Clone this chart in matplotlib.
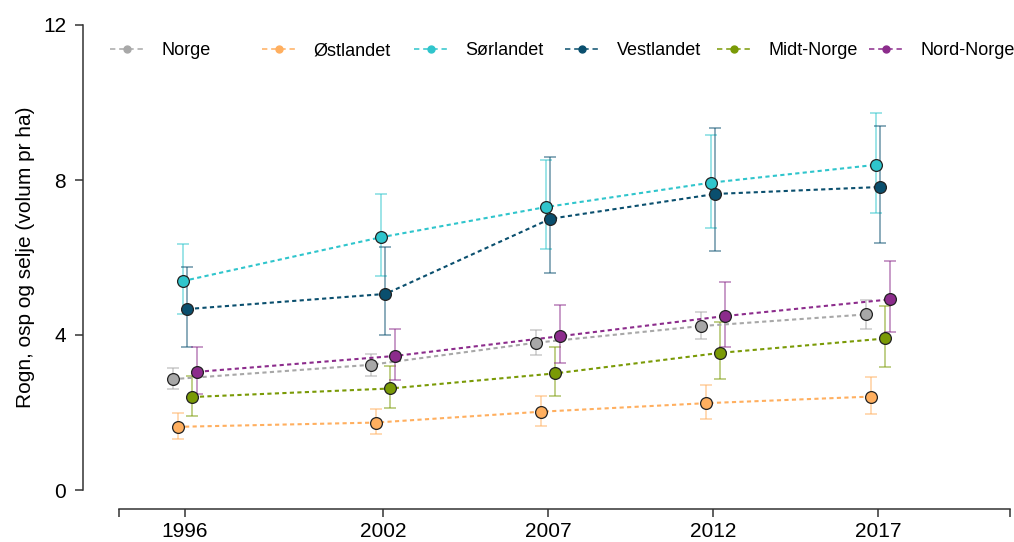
import numpy as np
from matplotlib import pyplot as plt
from matplotlib.lines import Line2D

plt.rcParams['font.family'] = ['Liberation Sans', 'DejaVu Sans']

# aar for hver taksering
years = np.array([1996, 2002, 2007, 2012, 2017])

# middelverdi, nedre og oevre grense for hver region
norge = [2.86, 3.23, 3.80, 4.23, 4.53]
norge_lo = [2.60, 2.95, 3.48, 3.89, 4.16]
norge_hi = [3.14, 3.52, 4.13, 4.60, 4.91]

ostlandet = [1.63, 1.74, 2.02, 2.24, 2.41]
ostlandet_lo = [1.32, 1.44, 1.65, 1.82, 1.95]
ostlandet_hi = [2.00, 2.09, 2.43, 2.71, 2.92]

sorlandet = [5.39, 6.52, 7.30, 7.93, 8.39]
sorlandet_lo = [4.54, 5.51, 6.21, 6.76, 7.16]
sorlandet_hi = [6.36, 7.63, 8.51, 9.16, 9.73]

vestlandet = [4.67, 5.06, 7.00, 7.64, 7.82]
vestlandet_lo = [3.69, 3.99, 5.61, 6.18, 6.37]
vestlandet_hi = [5.76, 6.27, 8.60, 9.33, 9.40]

midtnorge = [2.40, 2.62, 3.01, 3.54, 3.91]
midtnorge_lo = [1.91, 2.12, 2.43, 2.86, 3.17]
midtnorge_hi = [2.94, 3.20, 3.68, 4.33, 4.75]

nordnorge = [3.05, 3.46, 3.97, 4.49, 4.92]
nordnorge_lo = [2.49, 2.84, 3.29, 3.70, 4.07]
nordnorge_hi = [3.69, 4.16, 4.78, 5.36, 5.91]

labels = ['Norge', 'Østlandet', 'Sørlandet', 'Vestlandet', 'Midt-Norge', 'Nord-Norge']
colors = ['#a8a8a8', '#ffaf5f', '#2fc5cc', '#0a4f6e', '#7a9a06', '#8c2c8c']
means = [norge, ostlandet, sorlandet, vestlandet, midtnorge, nordnorge]
lows = [norge_lo, ostlandet_lo, sorlandet_lo, vestlandet_lo, midtnorge_lo, nordnorge_lo]
highs = [norge_hi, ostlandet_hi, sorlandet_hi, vestlandet_hi, midtnorge_hi, nordnorge_hi]

fig = plt.figure(figsize=(10.14, 5.42), dpi=100)
ax = fig.add_axes([119 / 1014, 52 / 542, 891 / 1014, 465 / 542])

handles = []
for i in range(6):
    m = np.array(means[i])
    x = years + (i - 2.5) * 0.15  # litt forskyvning saa feilstolpene ikke overlapper
    yerr = [m - np.array(lows[i]), np.array(highs[i]) - m]
    ax.errorbar(x, m, yerr=yerr, fmt='none', ecolor=colors[i], alpha=0.6,
                elinewidth=1.1, capsize=4.5, capthick=1.1, zorder=2)
    ax.plot(x, m, color=colors[i], lw=1.5, dashes=(2, 1.6), zorder=3)
    ax.plot(x, m, 'o', ms=8.5, mfc=colors[i], mec='#222222', mew=0.9, zorder=4)
    handles.append(Line2D([], [], color=colors[i], lw=1.1, dashes=(3.5, 2.5),
                          marker='o', ms=5, mfc=colors[i], mec=colors[i]))

ax.set_xlim(1994, 2021)
ax.set_ylim(0, 12)
ax.set_xticks([1994, 1996, 2002, 2007, 2012, 2017, 2021])
ax.set_xticklabels(['', '1996', '2002', '2007', '2012', '2017', ''])
ax.set_yticks([0, 4, 8, 12])
ax.set_yticklabels(['0', '4', '8', '12'], rotation=90, va='center')

for s in ['top', 'right']:
    ax.spines[s].set_visible(False)
ax.spines['left'].set_position(('outward', 26))
ax.spines['bottom'].set_position(('outward', 14))
ax.spines['left'].set_bounds(0, 12)
ax.spines['bottom'].set_bounds(1994, 2021)
for s in ['left', 'bottom']:
    ax.spines[s].set_color('#333333')
    ax.spines[s].set_linewidth(1.1)
ax.tick_params(axis='both', colors='#333333', length=6, width=1.1, labelsize=15,
               labelcolor='black')
ax.tick_params(axis='y', pad=6)
ax.tick_params(axis='x', pad=3)
ax.set_ylabel('Rogn, osp og selje (volum pr ha)', fontsize=15, labelpad=6)

# forklaring: en kolonne per region, jevnt fordelt langs toppen
for i in range(6):
    fig.legend([handles[i]], [labels[i]], loc='center left', frameon=False,
               bbox_to_anchor=((110 + i * 151.8) / 1014, 1 - 51 / 542),
               borderpad=0, borderaxespad=0, handlelength=1.88,
               handletextpad=0.98, fontsize=13, numpoints=1)

plt.savefig('out.png', dpi=100)
